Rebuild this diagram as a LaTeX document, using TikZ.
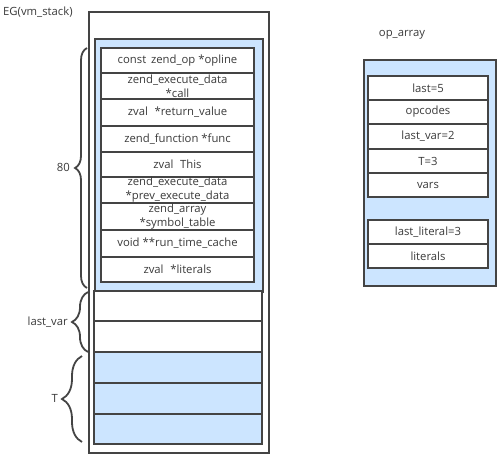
\documentclass[tikz,border=0pt]{standalone}
\usepackage{fontspec}
\setmainfont{Open Sans}
\usetikzlibrary{decorations.pathreplacing,positioning}
\definecolor{lblue}{HTML}{CCE5FF}
\definecolor{lgray}{HTML}{444444}
\definecolor{tgray}{HTML}{3A3A3A}
\begin{document}
\begin{tikzpicture}[x=1pt,y=-1pt,
  every node/.style={text=tgray,font=\fontsize{11.3}{14}\selectfont},
  box/.style={draw=lgray,line width=1.6pt,inner sep=0pt,anchor=north west},
  cell/.style={draw=lgray,line width=1.6pt,inner sep=0pt,align=center,fill=white},
  bcell/.style={cell,fill=lblue},
  lbl/.style={inner sep=0pt},
  brc/.style={draw=lgray,line width=1.8pt,decorate,decoration={brace,amplitude=#1}}
]
\useasboundingbox (0,0) rectangle (500,457);
% outer EG box
\node[box,minimum width=180pt,minimum height=441pt] (eg) at (88,11) {};
\node[lbl,anchor=west] (eglbl) at (3,12) {EG(vm\_stack)};
% blue frame
\node[box,fill=lblue,minimum width=168pt,minimum height=253pt] (frame) at (94,38) {};
% inner rows
\node[cell,minimum width=153pt,minimum height=25pt] (r1) at (177.5,60.5) {const\, zend\_op *opline};
\node[cell,minimum width=153pt,minimum height=26pt] (r2) at (177.5,86) {zend\_execute\_data\\*call};
\node[cell,minimum width=153pt,minimum height=27pt] (r3) at (177.5,112.5) {zval\,\, *return\_value};
\node[cell,minimum width=153pt,minimum height=26pt] (r4) at (177.5,139) {zend\_function *func};
\node[cell,minimum width=153pt,minimum height=25pt] (r5) at (177.5,164.5) {zval\,\, This};
\node[cell,minimum width=153pt,minimum height=26pt] (r6) at (177.5,190) {zend\_execute\_data\\*prev\_execute\_data};
\node[cell,minimum width=153pt,minimum height=27pt] (r7) at (177.5,216.5) {zend\_array\\*symbol\_table};
\node[cell,minimum width=153pt,minimum height=27pt] (r8) at (177.5,243.5) {void **run\_time\_cache};
\node[cell,minimum width=153pt,minimum height=25pt] (r9) at (177.5,269.5) {zval\,\, *literals};
% lower rows
\node[cell,minimum width=168pt,minimum height=30pt] (v1) at (178,306) {};
\node[cell,minimum width=168pt,minimum height=31pt] (v2) at (178,336.5) {};
\node[bcell,minimum width=168pt,minimum height=31pt] (t1) at (178,367.5) {};
\node[bcell,minimum width=168pt,minimum height=31pt] (t2) at (178,398.5) {};
\node[bcell,minimum width=168pt,minimum height=30pt] (t3) at (178,429) {};
% braces
\coordinate (b80s) at (87,288);
\coordinate (b80e) at (87,48);
\draw[brc=12pt] (b80s) -- (b80e);
\node[lbl,anchor=east] (l80) at (70,167) {80};
\coordinate (blvs) at (88,352);
\coordinate (blve) at (88,292);
\draw[brc=16pt] (blvs) -- (blve);
\node[lbl,anchor=east] (llv) at (68,322) {last\_var};
\coordinate (bts) at (82,442);
\coordinate (bte) at (82,356);
\draw[brc=20pt] (bts) -- (bte);
\node[lbl,anchor=east] (lt) at (58,398) {T};
% op_array
\node[lbl] (oplbl) at (402,35) {op\_array};
\node[box,fill=lblue,minimum width=132pt,minimum height=226pt] (op) at (363,59) {};
\node[cell,minimum width=120pt,minimum height=24pt] (o1) at (428,88) {last=5};
\node[cell,minimum width=120pt,minimum height=24pt] (o2) at (428,112) {opcodes};
\node[cell,minimum width=120pt,minimum height=25pt] (o3) at (428,136.5) {last\_var=2};
\node[cell,minimum width=120pt,minimum height=24pt] (o4) at (428,161) {T=3};
\node[cell,minimum width=120pt,minimum height=24pt] (o5) at (428,185) {vars};
\node[cell,minimum width=120pt,minimum height=24pt] (o6) at (428,232) {last\_literal=3};
\node[cell,minimum width=120pt,minimum height=24pt] (o7) at (428,256) {literals};
\end{tikzpicture}
\end{document}
